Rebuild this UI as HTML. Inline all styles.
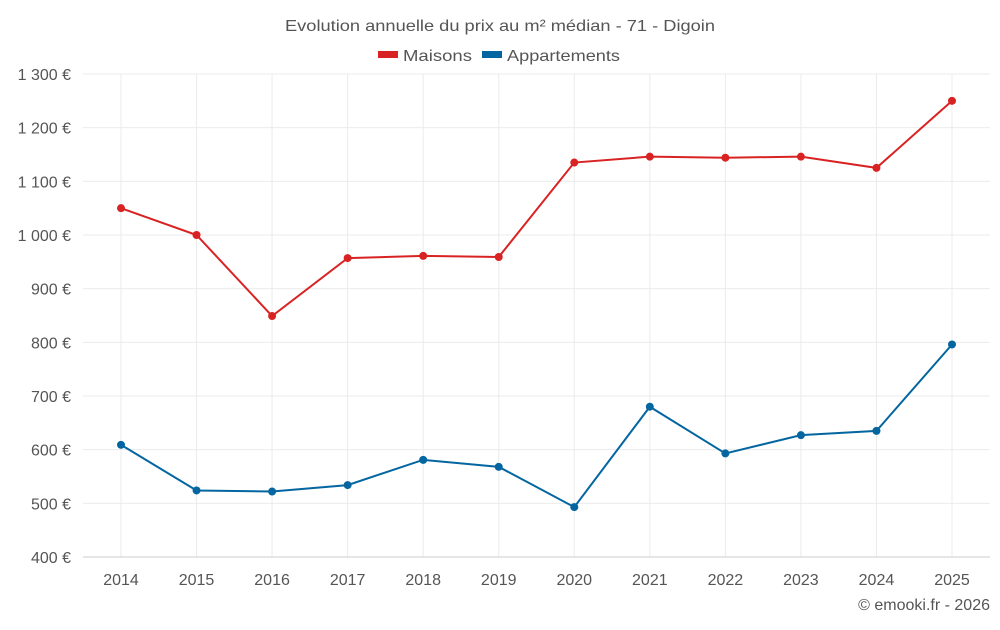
<!DOCTYPE html>
<html><head><meta charset="utf-8"><style>
body{margin:0;background:#fff;font-family:"Liberation Sans",sans-serif;}
svg text{font-family:"Liberation Sans",sans-serif;}
</style></head><body>
<svg id="chart" width="1000" height="625">
<text x="285" y="31" textLength="430" lengthAdjust="spacingAndGlyphs" font-size="16" fill="#555">Evolution annuelle du prix au m² médian - 71 - Digoin</text>
<g><rect x="378" y="51" width="20" height="7" fill="#d92323"/><text x="403" y="61" textLength="69" lengthAdjust="spacingAndGlyphs" font-size="16" fill="#555">Maisons</text></g>
<g><rect x="482" y="51" width="20" height="7" fill="#0466a0"/><text x="507" y="61" textLength="113" lengthAdjust="spacingAndGlyphs" font-size="16" fill="#555">Appartements</text></g>
<g id="grid"></g><g id="axes"></g><g id="series"></g>
<text x="990" y="610" text-anchor="end" font-size="16" fill="#555">© emooki.fr - 2026</text>
</svg>
<script>
const years=[2014,2015,2016,2017,2018,2019,2020,2021,2022,2023,2024,2025];
const maisons=[1050,1000,849,957,961,959,1135,1146,1144,1146,1125,1250];
const appartements=[609,524,522,534,581,568,493,680,593,627,635,796];
const yTicks=[400,500,600,700,800,900,1000,1100,1200,1300];
const ns="http://www.w3.org/2000/svg";
const L=83,R=990,T=74,B=557;
const x=i=>121+i*(952-121)/(years.length-1);
const y=v=>B-(v-400)/900*(B-T);
function mk(t,a,p){const e=document.createElementNS(ns,t);for(const k in a)e.setAttribute(k,a[k]);p.appendChild(e);return e;}
const grid=document.getElementById('grid'),axes=document.getElementById('axes'),ser=document.getElementById('series');
yTicks.forEach(v=>{
 const l=mk('line',{x1:L,x2:R,y1:y(v),y2:y(v),stroke:'#ebebeb'},grid);
 
 
 const t=mk('text',{x:71,y:y(v)+6,'text-anchor':'end','font-size':16,fill:'#555'},axes);
 t.textContent=(v>=1000?Math.floor(v/1000)+' '+String(v%1000).padStart(3,'0'):v)+' €';
 
 
});
years.forEach((yr,i)=>{
 const l=mk('line',{x1:x(i),x2:x(i),y1:T,y2:B,stroke:'#ebebeb'},grid);
 
 
 const t=mk('text',{x:x(i),y:585,'text-anchor':'middle','font-size':16,fill:'#555'},axes);
 t.textContent=yr;
 
 
});
const ax=mk('line',{x1:L,x2:R,y1:B,y2:B,stroke:'#ccc'},axes);


[[maisons,'#d92323','maisons'],[appartements,'#0466a0','appartements']].forEach(([d,c,n])=>{
 const p=mk('polyline',{points:d.map((v,i)=>x(i)+','+y(v)).join(' '),fill:'none',stroke:c,'stroke-width':2},ser);
 
 
 d.forEach((v,i)=>{
  const cc=mk('circle',{cx:x(i),cy:y(v),r:4,fill:c},ser);
  
  
 });
});
</script>
</body></html>
